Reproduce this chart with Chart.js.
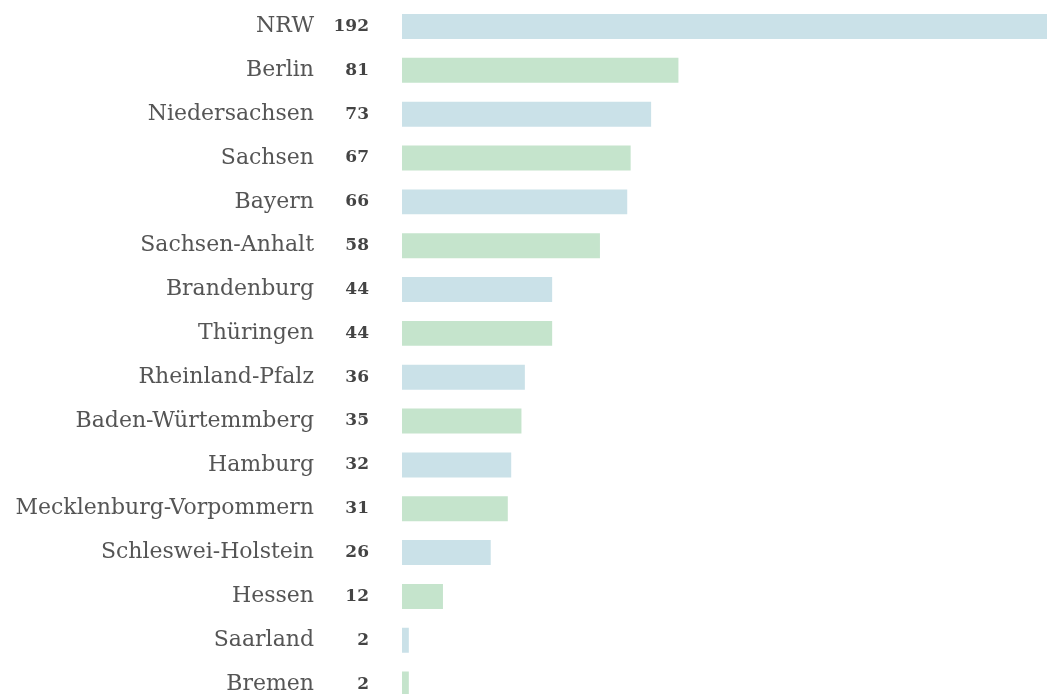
<!DOCTYPE html>
<html>
<head>
<meta charset="utf-8">
<script src="https://cdn.jsdelivr.net/npm/chart.js@4"></script>
<style>
  html, body { margin: 0; padding: 0; background: #fff; overflow: hidden; }
  #wrap { position: relative; width: 1047px; height: 706px; }
</style>
</head>
<body>
<div id="wrap"><canvas id="chart"></canvas></div>
<script>
const states = ['NRW', 'Berlin', 'Niedersachsen', 'Sachsen', 'Bayern', 'Sachsen-Anhalt',
  'Brandenburg', 'Thüringen', 'Rheinland-Pfalz', 'Baden-Würtemmberg', 'Hamburg',
  'Mecklenburg-Vorpommern', 'Schleswei-Holstein', 'Hessen', 'Saarland', 'Bremen'];
const counts = [192, 81, 73, 67, 66, 58, 44, 44, 36, 35, 32, 31, 26, 12, 2, 2];
const barColors = ['#cae1e8', '#c5e4cc'];

// bold numbers next to the state names
const valueLabels = {
  id: 'valueLabels',
  afterDatasetsDraw(chart) {
    const ctx = chart.ctx;
    const meta = chart.getDatasetMeta(0);
    ctx.save();
    ctx.font = 'bold 17px "DejaVu Serif"';
    ctx.fillStyle = '#444';
    ctx.textAlign = 'right';
    ctx.textBaseline = 'middle';
    meta.data.forEach((bar, i) => {
      ctx.fillText(String(counts[i]), 369, bar.y);
    });
    ctx.restore();
  }
};

const ctx = document.getElementById('chart').getContext('2d');
const chart = new Chart(ctx, {
  type: 'bar',
  data: {
    labels: states,
    datasets: [{
      data: counts,
      backgroundColor: counts.map((v, i) => barColors[i % 2]),
      barPercentage: 0.57,
      categoryPercentage: 1.0
    }]
  },
  options: {
    indexAxis: 'y',
    responsive: true,
    maintainAspectRatio: false,
    animation: false,
    layout: { padding: { top: 4.6, left: 0, right: 0, bottom: 0 } },
    plugins: {
      legend: { display: false },
      tooltip: { enabled: false }
    },
    scales: {
      x: {
        display: false,
        min: 0,
        max: 189
      },
      y: {
        grid: { display: false, drawTicks: false },
        border: { display: false },
        afterFit(scale) {
          scale.width = 402;
          scale.paddingTop = 0;
          scale.paddingBottom = 0;
        },
        ticks: {
          padding: 88,
          color: '#555',
          font: { family: '"DejaVu Serif"', size: 22, weight: 'normal' }
        }
      }
    }
  },
  plugins: [valueLabels]
});
</script>
</body>
</html>
